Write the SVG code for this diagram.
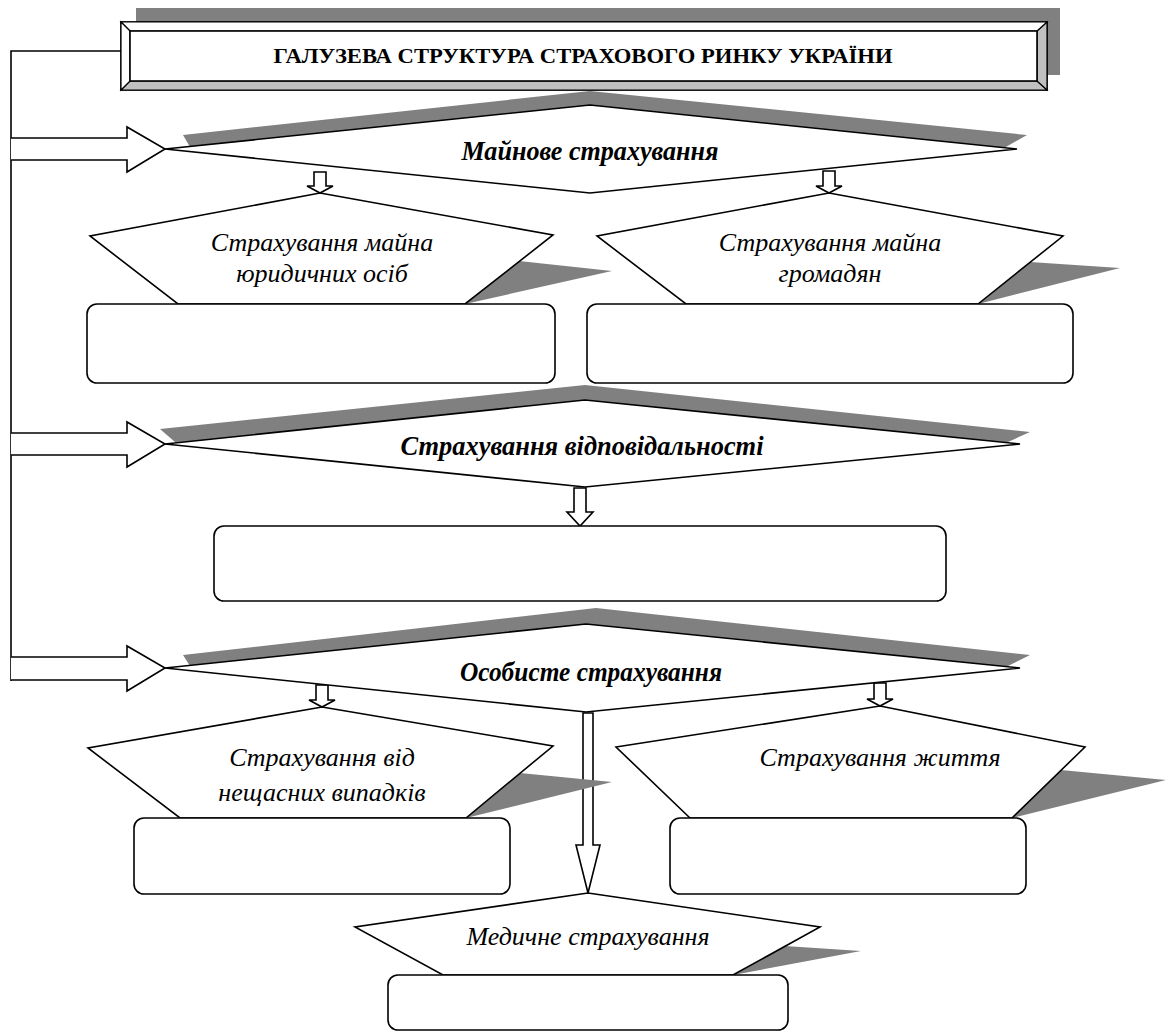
<svg xmlns="http://www.w3.org/2000/svg" width="1166" height="1032" viewBox="0 0 1166 1032">
<style>
.ln{fill:none;stroke:#000;stroke-width:1.6;stroke-linejoin:miter}
.sh{fill:#808080;stroke:none}
.nd{fill:#fff;stroke:#000;stroke-width:1.6;stroke-linejoin:miter}
.bx{fill:#fff;stroke:#000;stroke-width:1.6}
.ar{fill:#fff;stroke:#000;stroke-width:1.6;stroke-linejoin:miter}
.t{font-family:"Liberation Serif","Times New Roman",serif;fill:#000;text-anchor:middle}
.tb{font-weight:bold;font-style:italic;font-size:28px}
.ti{font-style:italic;font-size:26px}
.tt{font-weight:bold;font-size:22px}
</style>
<rect width="1166" height="1032" fill="#fff"/>

<g id="title">
  <rect x="136" y="8" width="924" height="67" class="sh"/>
  <rect x="121" y="22" width="926" height="68" fill="#fff" stroke="#000" stroke-width="1.6"/>
  <polygon points="121,90 130,81 1037,81 1047,90" fill="#c0c0c0" stroke="#000" stroke-width="1.2"/>
  <polygon points="1047,22 1037,31 1037,81 1047,90" fill="#c0c0c0" stroke="#000" stroke-width="1.2"/>
  <polygon points="121,22 1047,22 1037,31 130,31" fill="#fff" stroke="#000" stroke-width="1.2"/>
  <polygon points="121,22 130,31 130,81 121,90" fill="#fff" stroke="#000" stroke-width="1.2"/>
  <rect x="130" y="31" width="907" height="50" fill="#fff" stroke="#000" stroke-width="1.6"/>
  <text class="t tt" x="583" y="63" textLength="619" lengthAdjust="spacingAndGlyphs">ГАЛУЗЕВА СТРУКТУРА СТРАХОВОГО РИНКУ УКРАЇНИ</text>
</g>

<g id="connectors">
  <polyline class="ln" points="121,51 11,51 11,681"/>
  <polyline class="ar" points="11,138 127,138 127,127 165,149 127,172 127,160 11,160"/>
  <polyline class="ar" points="11,433 127,433 127,422 165,444 127,467 127,455 11,455"/>
  <polyline class="ar" points="11,657 127,657 127,646 165,668 127,691 127,680 11,680"/>
  <polygon class="ar" points="314,172 326,172 326,186 333,186 320,193 307,186 314,186"/>
  <polygon class="ar" points="823,171 835,171 835,186 842,186 829,193 816,186 823,186"/>
  <polygon class="ar" points="574,488 586,488 586,512 593,512 580,526 567,512 574,512"/>
  <polygon class="ar" points="316,685 328,685 328,700 335,700 322,707 309,700 316,700"/>
  <polygon class="ar" points="874,683 886,683 886,699 893,699 880,706 867,699 874,699"/>
  <polygon class="ar" points="583,713 593,713 593,845 600,845 588,893 576,845 583,845"/>
</g>

<g id="node-mainove">
  <polygon class="sh" points="183,135 590,91 1027,135 1005,147.5 590,140 190,147"/>
  <polygon class="nd" points="165,149 590,105 1017,149 590,193"/>
  <text class="t tb" x="590" y="160" textLength="257" lengthAdjust="spacingAndGlyphs">Майнове страхування</text>
</g>

<g id="node-yur">
  <polygon class="sh" points="519,261 612,271 465,304"/>
  <polygon class="nd" points="320,193 553,235 465,304 178,304 90,236"/>
  <text class="t ti" x="322" y="251">Страхування майна</text>
  <text class="t ti" x="322" y="282">юридичних осіб</text>
</g>
<g id="box-yur"><rect class="bx" x="87" y="304" width="468" height="79" rx="10"/></g>

<g id="node-gromadyan">
  <polygon class="sh" points="1030,262 1120,268 978,304"/>
  <polygon class="nd" points="829,193 1063,236 978,304 686,304 597,236"/>
  <text class="t ti" x="830" y="251">Страхування майна</text>
  <text class="t ti" x="830" y="282">громадян</text>
</g>
<g id="box-gromadyan"><rect class="bx" x="587" y="304" width="486" height="79" rx="10"/></g>

<g id="node-vidpovidalnist">
  <polygon class="sh" points="160,429 585,385 1030,432 1008,442 585,435 175,442"/>
  <polygon class="nd" points="165,444 585,400 1020,444 585,487"/>
  <text class="t tb" x="582" y="455" textLength="363" lengthAdjust="spacingAndGlyphs">Страхування відповідальності</text>
</g>
<g id="box-vidpovidalnist"><rect class="bx" x="214" y="526" width="732" height="75" rx="10"/></g>

<g id="node-osobyste">
  <polygon class="sh" points="183,655 596,608 1030,655 1008,666 590,660 190,666"/>
  <polygon class="nd" points="165,668 586,624 1020,668 586,712"/>
  <text class="t tb" x="591" y="681" textLength="262" lengthAdjust="spacingAndGlyphs">Особисте страхування</text>
</g>

<g id="node-neshchasni">
  <polygon class="sh" points="520,773 612,782 466,818"/>
  <polygon class="nd" points="322,707 553,746 466,818 180,818 88,748"/>
  <text class="t ti" x="322" y="766">Страхування від</text>
  <text class="t ti" x="322" y="801">нещасних випадків</text>
</g>
<g id="box-neshchasni"><rect class="bx" x="134" y="818" width="376" height="76" rx="10"/></g>

<g id="node-zhyttia">
  <polygon class="sh" points="1061,770 1166,780 1012,818"/>
  <polygon class="nd" points="880,706 1085,747 1012,818 690,818 616,747"/>
  <text class="t ti" x="880" y="766">Страхування життя</text>
</g>
<g id="box-zhyttia"><rect class="bx" x="670" y="818" width="356" height="76" rx="10"/></g>

<g id="node-medychne">
  <polygon class="sh" points="785,946 861,951 733,975"/>
  <polygon class="nd" points="588,893 820,927 733,975 443,975 355,927"/>
  <text class="t ti" x="588" y="945">Медичне страхування</text>
</g>
<g id="box-medychne"><rect class="bx" x="388" y="975" width="400" height="55" rx="10"/></g>
</svg>
